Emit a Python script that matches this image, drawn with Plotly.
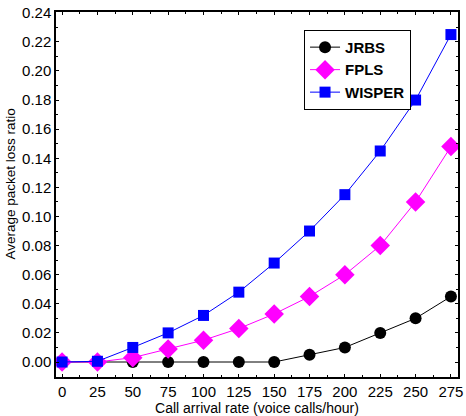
import plotly.graph_objects as go

# Call arrival rate (voice calls/hour)
arrival_rate = [0, 25, 50, 75, 100, 125, 150, 175, 200, 225, 250, 275]

# Average packet loss ratio per scheme
jrbs = [0, 0, 0, 0, 0, 0, 0, 0.005, 0.01, 0.02, 0.03, 0.045]
fpls = [0, 0, 0.003, 0.009, 0.015, 0.023, 0.033, 0.045, 0.06, 0.08, 0.11, 0.148]
wisper = [0, 0.0005, 0.01, 0.02, 0.032, 0.048, 0.068, 0.09, 0.115, 0.145, 0.18, 0.225]

x_ticks = [0, 25, 50, 75, 100, 125, 150, 175, 200, 225, 250, 275]
y_ticks = [0.00, 0.02, 0.04, 0.06, 0.08, 0.10, 0.12, 0.14, 0.16, 0.18, 0.20, 0.22, 0.24]

FONT = "Arial, Liberation Sans"

fig = go.Figure()
fig.add_trace(go.Scatter(
    x=arrival_rate, y=jrbs, name="JRBS", mode="lines+markers",
    line=dict(color="black", width=1),
    marker=dict(symbol="circle", size=12, color="black"),
))
fig.add_trace(go.Scatter(
    x=arrival_rate, y=fpls, name="FPLS", mode="lines+markers",
    line=dict(color="#ff00ff", width=1),
    marker=dict(symbol="diamond", size=15, color="#ff00ff"),
))
fig.add_trace(go.Scatter(
    x=arrival_rate, y=wisper, name="WISPER", mode="lines+markers",
    line=dict(color="#0000ff", width=1),
    marker=dict(symbol="square", size=11, color="#0000ff"),
))

axis_common = dict(
    showline=True, linecolor="black", linewidth=1.5, mirror="allticks",
    ticks="inside", ticklen=3, tickcolor="black", tickwidth=1,
    showgrid=False, zeroline=False,
    ticklabeloverflow="allow",
    tickfont=dict(family=FONT, size=15, color="black"),
)

fig.update_xaxes(
    range=[-4.3, 280], tickvals=x_ticks,
    minor=dict(ticks="inside", ticklen=2, dtick=12.5, tick0=0, tickcolor="black"),
    title=dict(text="Call arrival rate (voice calls/hour)", standoff=3,
               font=dict(family=FONT, size=14, color="black")),
    **axis_common,
)
fig.update_yaxes(
    range=[-0.0103, 0.2405], tickvals=y_ticks, tickformat=".2f",
    minor=dict(ticks="inside", ticklen=2, dtick=0.01, tick0=0, tickcolor="black"),
    **axis_common,
)

fig.update_layout(
    width=466, height=416,
    margin=dict(l=56, r=3, t=12, b=39),
    plot_bgcolor="white", paper_bgcolor="white",
    showlegend=True,
    legend=dict(
        x=0.617, y=0.951, xanchor="left", yanchor="top",
        bordercolor="black", borderwidth=1, bgcolor="white",
        font=dict(family=FONT, size=15, color="black", weight="bold"),
        tracegroupgap=0, itemsizing="trace",
    ),
    annotations=[dict(
        text="Average packet loss ratio", textangle=-90,
        xref="paper", yref="paper", x=-0.112, y=0.53,
        xanchor="center", yanchor="middle", showarrow=False,
        font=dict(family=FONT, size=13.5, color="black"),
    )],
)

fig.write_html("out.html")
